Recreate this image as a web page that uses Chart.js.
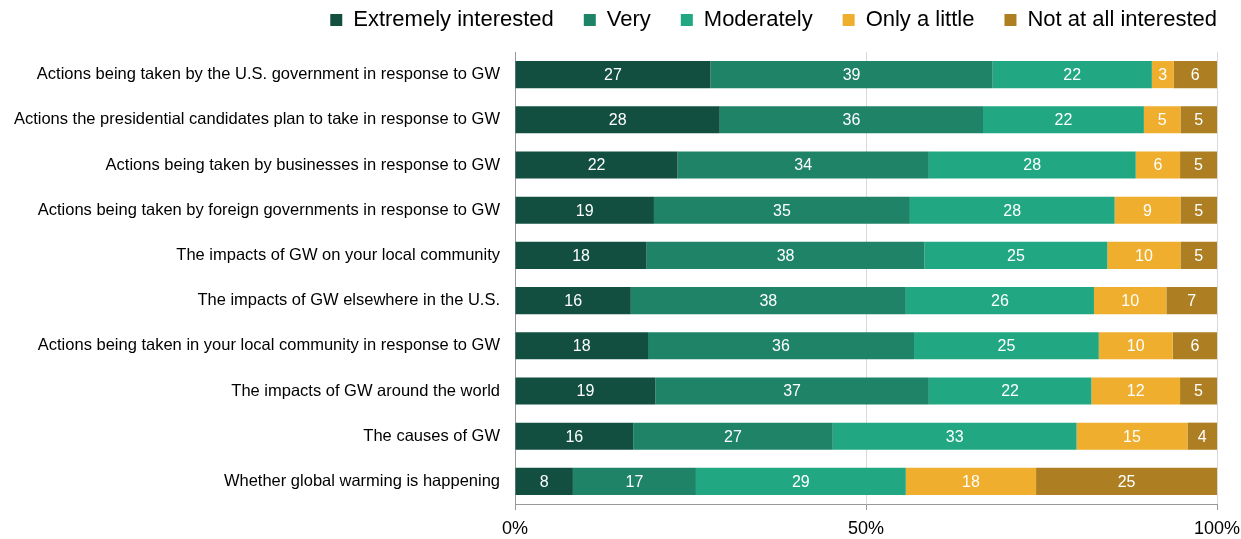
<!DOCTYPE html>
<html>
<head>
<meta charset="utf-8">
<script src="https://cdn.jsdelivr.net/npm/chart.js@4"></script>
<style>
  html, body { margin: 0; padding: 0; background: #fff; }
  #wrap { width: 1241px; height: 539px; }
</style>
</head>
<body>
<div id="wrap"><canvas id="chart" width="1241" height="539"></canvas></div>
<script>
// categories, top to bottom
const topics = [
    'Actions being taken by the U.S. government in response to GW',
    'Actions the presidential candidates plan to take in response to GW',
    'Actions being taken by businesses in response to GW',
    'Actions being taken by foreign governments in response to GW',
    'The impacts of GW on your local community',
    'The impacts of GW elsewhere in the U.S.',
    'Actions being taken in your local community in response to GW',
    'The impacts of GW around the world',
    'The causes of GW',
    'Whether global warming is happening'
];
const seriesNames = ['Extremely interested', 'Very', 'Moderately', 'Only a little', 'Not at all interested'];
const extremely = [27, 28, 22, 19, 18, 16, 18, 19, 16, 8];
const very = [39, 36, 34, 35, 38, 38, 36, 37, 27, 17];
const moderately = [22, 22, 28, 28, 25, 26, 25, 22, 33, 29];
const onlyLittle = [3, 5, 6, 9, 10, 10, 10, 12, 15, 18];
const notAtAll = [6, 5, 5, 5, 5, 7, 6, 5, 4, 25];
const xTicks = [0, 50, 100];

const colors = ['#134f40', '#1e8367', '#21a883', '#efae2d', '#ad7f22'];
const FONT = '"Liberation Sans", Arial, sans-serif';

const raw = [extremely, very, moderately, onlyLittle, notAtAll];
// each row is stretched to the full 100% width
const totals = topics.map((_, i) => raw.reduce((s, arr) => s + arr[i], 0));

const datasets = raw.map((arr, k) => ({
    label: seriesNames[k],
    data: arr.map((v, i) => v / totals[i] * 100),
    rawValues: arr,
    backgroundColor: colors[k],
    borderWidth: 0,
    barPercentage: 1,
    categoryPercentage: 0.6
}));

// white numbers in the middle of each segment
const valueLabels = {
    id: 'valueLabels',
    afterDatasetsDraw(chart) {
        const ctx = chart.ctx;
        ctx.save();
        ctx.fillStyle = '#ffffff';
        ctx.font = '16px ' + FONT;
        ctx.textAlign = 'center';
        ctx.textBaseline = 'middle';
        chart.data.datasets.forEach((ds, k) => {
            const meta = chart.getDatasetMeta(k);
            meta.data.forEach((bar, i) => {
                const p = bar.getProps(['x', 'y', 'base'], true);
                ctx.fillText(String(ds.rawValues[i]), (p.x + p.base) / 2, p.y + 1);
            });
        });
        ctx.restore();
    }
};

// keep the legend short and tucked into the top-right corner
const legendSpot = {
    id: 'legendSpot',
    beforeLayout(chart) {
        const lg = chart.legend;
        if (lg && !lg._patched) {
            const fit = lg.fit;
            lg.fit = function () { fit.call(this); this.height = 52; };
            lg._patched = true;
        }
    },
    afterLayout(chart) {
        const lg = chart.legend;
        if (!lg) return;
        lg.top = -21;
        lg.bottom = lg.top + lg.height;
        lg.right = chart.width - 24 + 30;
    }
};

const ctx = document.getElementById('chart').getContext('2d');
new Chart(ctx, {
    type: 'bar',
    data: { labels: topics, datasets: datasets },
    plugins: [valueLabels, legendSpot],
    options: {
        indexAxis: 'y',
        responsive: false,
        animation: false,
        layout: { padding: { left: 8, right: 24, top: 0, bottom: 2 } },
        plugins: {
            legend: {
                position: 'top',
                align: 'end',
                labels: {
                    font: { family: FONT, size: 22 },
                    color: '#000',
                    boxWidth: 12,
                    boxHeight: 12,
                    padding: 30
                }
            },
            tooltip: { enabled: false }
        },
        scales: {
            x: {
                stacked: true,
                min: 0,
                max: 100,
                afterBuildTicks: scale => { scale.ticks = xTicks.map(v => ({ value: v })); },
                afterFit: scale => { scale.paddingRight = 0; scale.height = 33; },
                ticks: {
                    callback: v => v + '%',
                    font: { family: FONT, size: 18 },
                    color: '#000',
                    padding: 8
                },
                grid: { color: '#d9d9d9', tickLength: 6, tickColor: '#999' },
                border: { color: '#999' }
            },
            y: {
                stacked: true,
                afterFit: scale => { scale.width = 507; },
                ticks: {
                    font: { family: FONT, size: 16.5 },
                    color: '#000',
                    padding: 7
                },
                grid: { display: false },
                border: { color: '#999' }
            }
        }
    }
});
</script>
</body>
</html>
